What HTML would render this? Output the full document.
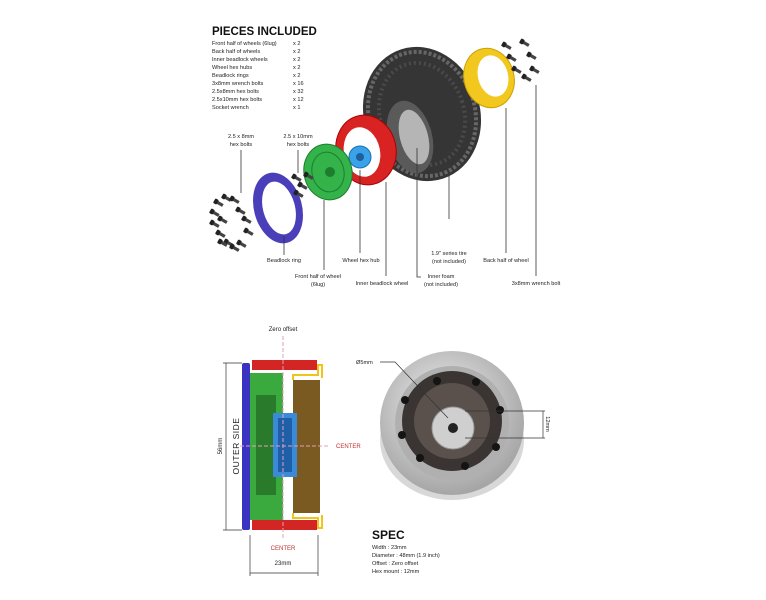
<!DOCTYPE html>
<html><head><meta charset="utf-8"><style>
html,body{margin:0;padding:0;background:#fff;}
svg{display:block;font-family:"Liberation Sans",sans-serif;}
</style></head><body>
<svg width="766" height="600" viewBox="0 0 766 600" xmlns="http://www.w3.org/2000/svg">
<rect width="766" height="600" fill="#fff"/>
<defs>
<g id="bolt"><rect x="-1.6" y="-6" width="3.2" height="7" fill="#444"/><rect x="-2.6" y="-9" width="5.2" height="4" rx="1" fill="#222"/></g>
<radialGradient id="alu" cx="45%" cy="40%" r="60%"><stop offset="0" stop-color="#f2f2f2"/><stop offset="1" stop-color="#a5a5a5"/></radialGradient>
</defs>
<text x="212" y="35" font-size="11.5" font-weight="bold" fill="#111">PIECES INCLUDED</text>
<g font-size="5.6" fill="#222">
<text x="212" y="45">Front half of wheels (6lug)</text><text x="293" y="45">x 2</text>
<text x="212" y="53">Back half of wheels</text><text x="293" y="53">x 2</text>
<text x="212" y="61">Inner beadlock wheels</text><text x="293" y="61">x 2</text>
<text x="212" y="69">Wheel hex hubs</text><text x="293" y="69">x 2</text>
<text x="212" y="77">Beadlock rings</text><text x="293" y="77">x 2</text>
<text x="212" y="85">3x8mm wrench bolts</text><text x="293" y="85">x 16</text>
<text x="212" y="93">2.5x8mm hex bolts</text><text x="293" y="93">x 32</text>
<text x="212" y="101">2.5x10mm hex bolts</text><text x="293" y="101">x 12</text>
<text x="212" y="109">Socket wrench</text><text x="293" y="109">x 1</text>
</g>
<g transform="rotate(-18 422 114)">
<ellipse cx="422" cy="114" rx="58" ry="68" fill="#353535"/>
<ellipse cx="422" cy="114" rx="53" ry="63" fill="none" stroke="#666" stroke-width="4" stroke-dasharray="3 2"/>
<ellipse cx="422" cy="114" rx="42" ry="52" fill="none" stroke="#4a4a4a" stroke-width="4" stroke-dasharray="2 3"/>
</g>
<ellipse cx="410" cy="137" rx="22" ry="37" fill="#5a5a5a" transform="rotate(-15 410 137)"/>
<ellipse cx="414" cy="137" rx="14" ry="28" fill="#b5b5b5" transform="rotate(-15 414 137)"/>
<ellipse cx="489" cy="78" rx="25" ry="30" fill="#f2c81e" stroke="#c9a100" transform="rotate(-15 489 78)"/>
<ellipse cx="493" cy="76" rx="15" ry="21" fill="#fff" transform="rotate(-15 493 76)"/>
<ellipse cx="366" cy="150" rx="30" ry="35" fill="#d92222" stroke="#a00" transform="rotate(-12 366 150)"/>
<ellipse cx="362" cy="152" rx="18" ry="25" fill="#fff" transform="rotate(-12 362 152)"/>
<circle cx="360" cy="157" r="11" fill="#3aa2e8" stroke="#1a6fb0"/>
<circle cx="360" cy="157" r="4" fill="#1e5f9a"/>
<ellipse cx="328" cy="172" rx="24" ry="28" fill="#34b34a" stroke="#1d7d2c" transform="rotate(-12 328 172)"/>
<ellipse cx="328" cy="172" rx="16" ry="20" fill="none" stroke="#1d7d2c" stroke-width="1" transform="rotate(-12 328 172)"/>
<circle cx="330" cy="172" r="5" fill="#1d7d2c"/>
<ellipse cx="278" cy="208" rx="24" ry="36" fill="#4a3fb8" transform="rotate(-15 278 208)"/>
<ellipse cx="279" cy="208" rx="16" ry="27" fill="#fff" transform="rotate(-15 279 208)"/>
<g>
<use href="#bolt" transform="translate(222,205) rotate(-60)"/><use href="#bolt" transform="translate(230,200) rotate(-60)"/><use href="#bolt" transform="translate(238,202) rotate(-60)"/>
<use href="#bolt" transform="translate(218,215) rotate(-60)"/><use href="#bolt" transform="translate(244,213) rotate(-60)"/><use href="#bolt" transform="translate(218,226) rotate(-60)"/>
<use href="#bolt" transform="translate(250,222) rotate(-60)"/><use href="#bolt" transform="translate(224,236) rotate(-60)"/><use href="#bolt" transform="translate(252,234) rotate(-60)"/>
<use href="#bolt" transform="translate(232,245) rotate(-60)"/><use href="#bolt" transform="translate(245,246) rotate(-60)"/><use href="#bolt" transform="translate(238,250) rotate(-60)"/>
<use href="#bolt" transform="translate(226,222) rotate(-60)"/><use href="#bolt" transform="translate(226,245) rotate(-60)"/>
<use href="#bolt" transform="translate(300,180) rotate(-60)"/><use href="#bolt" transform="translate(306,188) rotate(-60)"/><use href="#bolt" transform="translate(302,196) rotate(-60)"/><use href="#bolt" transform="translate(312,178) rotate(-60)"/>
<use href="#bolt" transform="translate(510,48) rotate(-60)"/><use href="#bolt" transform="translate(528,45) rotate(-60)"/><use href="#bolt" transform="translate(515,60) rotate(-60)"/>
<use href="#bolt" transform="translate(535,58) rotate(-60)"/><use href="#bolt" transform="translate(520,72) rotate(-60)"/><use href="#bolt" transform="translate(538,72) rotate(-60)"/><use href="#bolt" transform="translate(530,80) rotate(-60)"/>
</g>
<g stroke="#333" stroke-width="0.8" fill="none">
<line x1="241" y1="150" x2="241" y2="193"/>
<line x1="298" y1="150" x2="298" y2="173"/>
<line x1="284" y1="236" x2="284" y2="255"/>
<line x1="324" y1="200" x2="324" y2="270"/>
<line x1="360" y1="170" x2="360" y2="253"/>
<line x1="386" y1="182" x2="386" y2="276"/>
<line x1="449" y1="170" x2="449" y2="219"/>
<polyline points="417,148 417,277 421,277"/>
<line x1="506" y1="108" x2="506" y2="253"/>
<line x1="536" y1="85" x2="536" y2="276"/>
</g>
<g font-size="5.6" fill="#222" text-anchor="middle">
<text x="241" y="138">2.5 x 8mm</text><text x="241" y="146">hex bolts</text>
<text x="298" y="138">2.5 x 10mm</text><text x="298" y="146">hex bolts</text>
<text x="284" y="262">Beadlock ring</text>
<text x="318" y="278">Front half of wheel</text><text x="318" y="286">(6lug)</text>
<text x="361" y="262">Wheel hex hub</text>
<text x="382" y="285">Inner beadlock wheel</text>
<text x="449" y="255">1.9" series tire</text><text x="449" y="263">(not included)</text>
<text x="441" y="278">Inner foam</text><text x="441" y="286">(not included)</text>
<text x="506" y="262">Back half of wheel</text>
<text x="536" y="285">3x8mm wrench bolt</text>
</g>
<rect x="252" y="360" width="65" height="10" fill="#d42525"/>
<rect x="252" y="520" width="65" height="10" fill="#d42525"/>
<rect x="293" y="380" width="27" height="133" fill="#7a5a20"/>
<polyline points="293,380 293,375 318,375 318,365 322,365 322,378" fill="none" stroke="#f0c419" stroke-width="2"/>
<polyline points="293,513 293,518 318,518 318,528 322,528 322,515" fill="none" stroke="#f0c419" stroke-width="2"/>
<rect x="250" y="373" width="33" height="147" fill="#3aaa3e"/>
<rect x="256" y="395" width="20" height="100" fill="#2a7a2c"/>
<rect x="273" y="413" width="24" height="64" fill="#3a8ad8"/>
<rect x="278" y="418" width="14" height="54" fill="#1e5fa8"/>
<rect x="242" y="363" width="8" height="167" rx="2" fill="#3a32c0"/>
<line x1="283" y1="336" x2="283" y2="540" stroke="#e0a0b8" stroke-width="1" stroke-dasharray="4 2"/>
<line x1="240" y1="446" x2="330" y2="446" stroke="#e0a0b8" stroke-width="1" stroke-dasharray="4 2"/>
<g stroke="#333" stroke-width="0.7">
<line x1="226" y1="363" x2="226" y2="530"/><line x1="223" y1="363" x2="242" y2="363"/><line x1="223" y1="530" x2="242" y2="530"/>
<line x1="250" y1="573" x2="318" y2="573"/><line x1="250" y1="535" x2="250" y2="576"/><line x1="318" y1="535" x2="318" y2="576"/>
</g>
<text x="283" y="331" font-size="6" text-anchor="middle" fill="#222">Zero offset</text>
<text x="336" y="448" font-size="6" fill="#c03030">CENTER</text>
<text x="283" y="550" font-size="6" text-anchor="middle" fill="#c03030">CENTER</text>
<text x="283" y="565" font-size="6" text-anchor="middle" fill="#222">23mm</text>
<text transform="translate(222,446) rotate(-90)" font-size="6" text-anchor="middle" fill="#222">56mm</text>
<text transform="translate(239,446) rotate(-90)" font-size="8.5" text-anchor="middle" fill="#222" letter-spacing="0.5">OUTER    SIDE</text>
<ellipse cx="452" cy="440" rx="72" ry="60" fill="#d8d8d8"/>
<circle cx="452" cy="423" r="72" fill="url(#alu)"/>
<circle cx="452" cy="423" r="57" fill="#b0b0b0"/>
<circle cx="452" cy="421" r="50" fill="#3a3532"/>
<circle cx="452" cy="421" r="38" fill="#5a514c"/>
<g fill="#141414">
<circle cx="437" cy="381" r="4"/><circle cx="476" cy="382" r="4"/><circle cx="405" cy="400" r="4"/><circle cx="500" cy="410" r="4"/>
<circle cx="402" cy="435" r="4"/><circle cx="496" cy="447" r="4"/><circle cx="420" cy="458" r="4"/><circle cx="465" cy="466" r="4"/>
</g>
<circle cx="453" cy="428" r="21" fill="#cfcfcf" stroke="#999"/>
<circle cx="453" cy="428" r="5" fill="#222"/>
<g stroke="#333" stroke-width="0.7" fill="none">
<polyline points="380,362 395,362 448,418"/>
<line x1="465" y1="411" x2="545" y2="411"/><line x1="465" y1="438" x2="545" y2="438"/>
<line x1="543" y1="411" x2="543" y2="438"/>
</g>
<text x="356" y="364" font-size="5.6" fill="#222">Ø5mm</text>
<text transform="translate(546,424) rotate(90)" font-size="5.6" text-anchor="middle" fill="#222">12mm</text>
<text x="372" y="539" font-size="12" font-weight="bold" fill="#111">SPEC</text>
<g font-size="5.6" fill="#222">
<text x="372" y="549">Width : 23mm</text>
<text x="372" y="557">Diameter : 48mm (1.9 inch)</text>
<text x="372" y="565">Offset : Zero offset</text>
<text x="372" y="573">Hex mount : 12mm</text>
</g>
</svg>
</body></html>
